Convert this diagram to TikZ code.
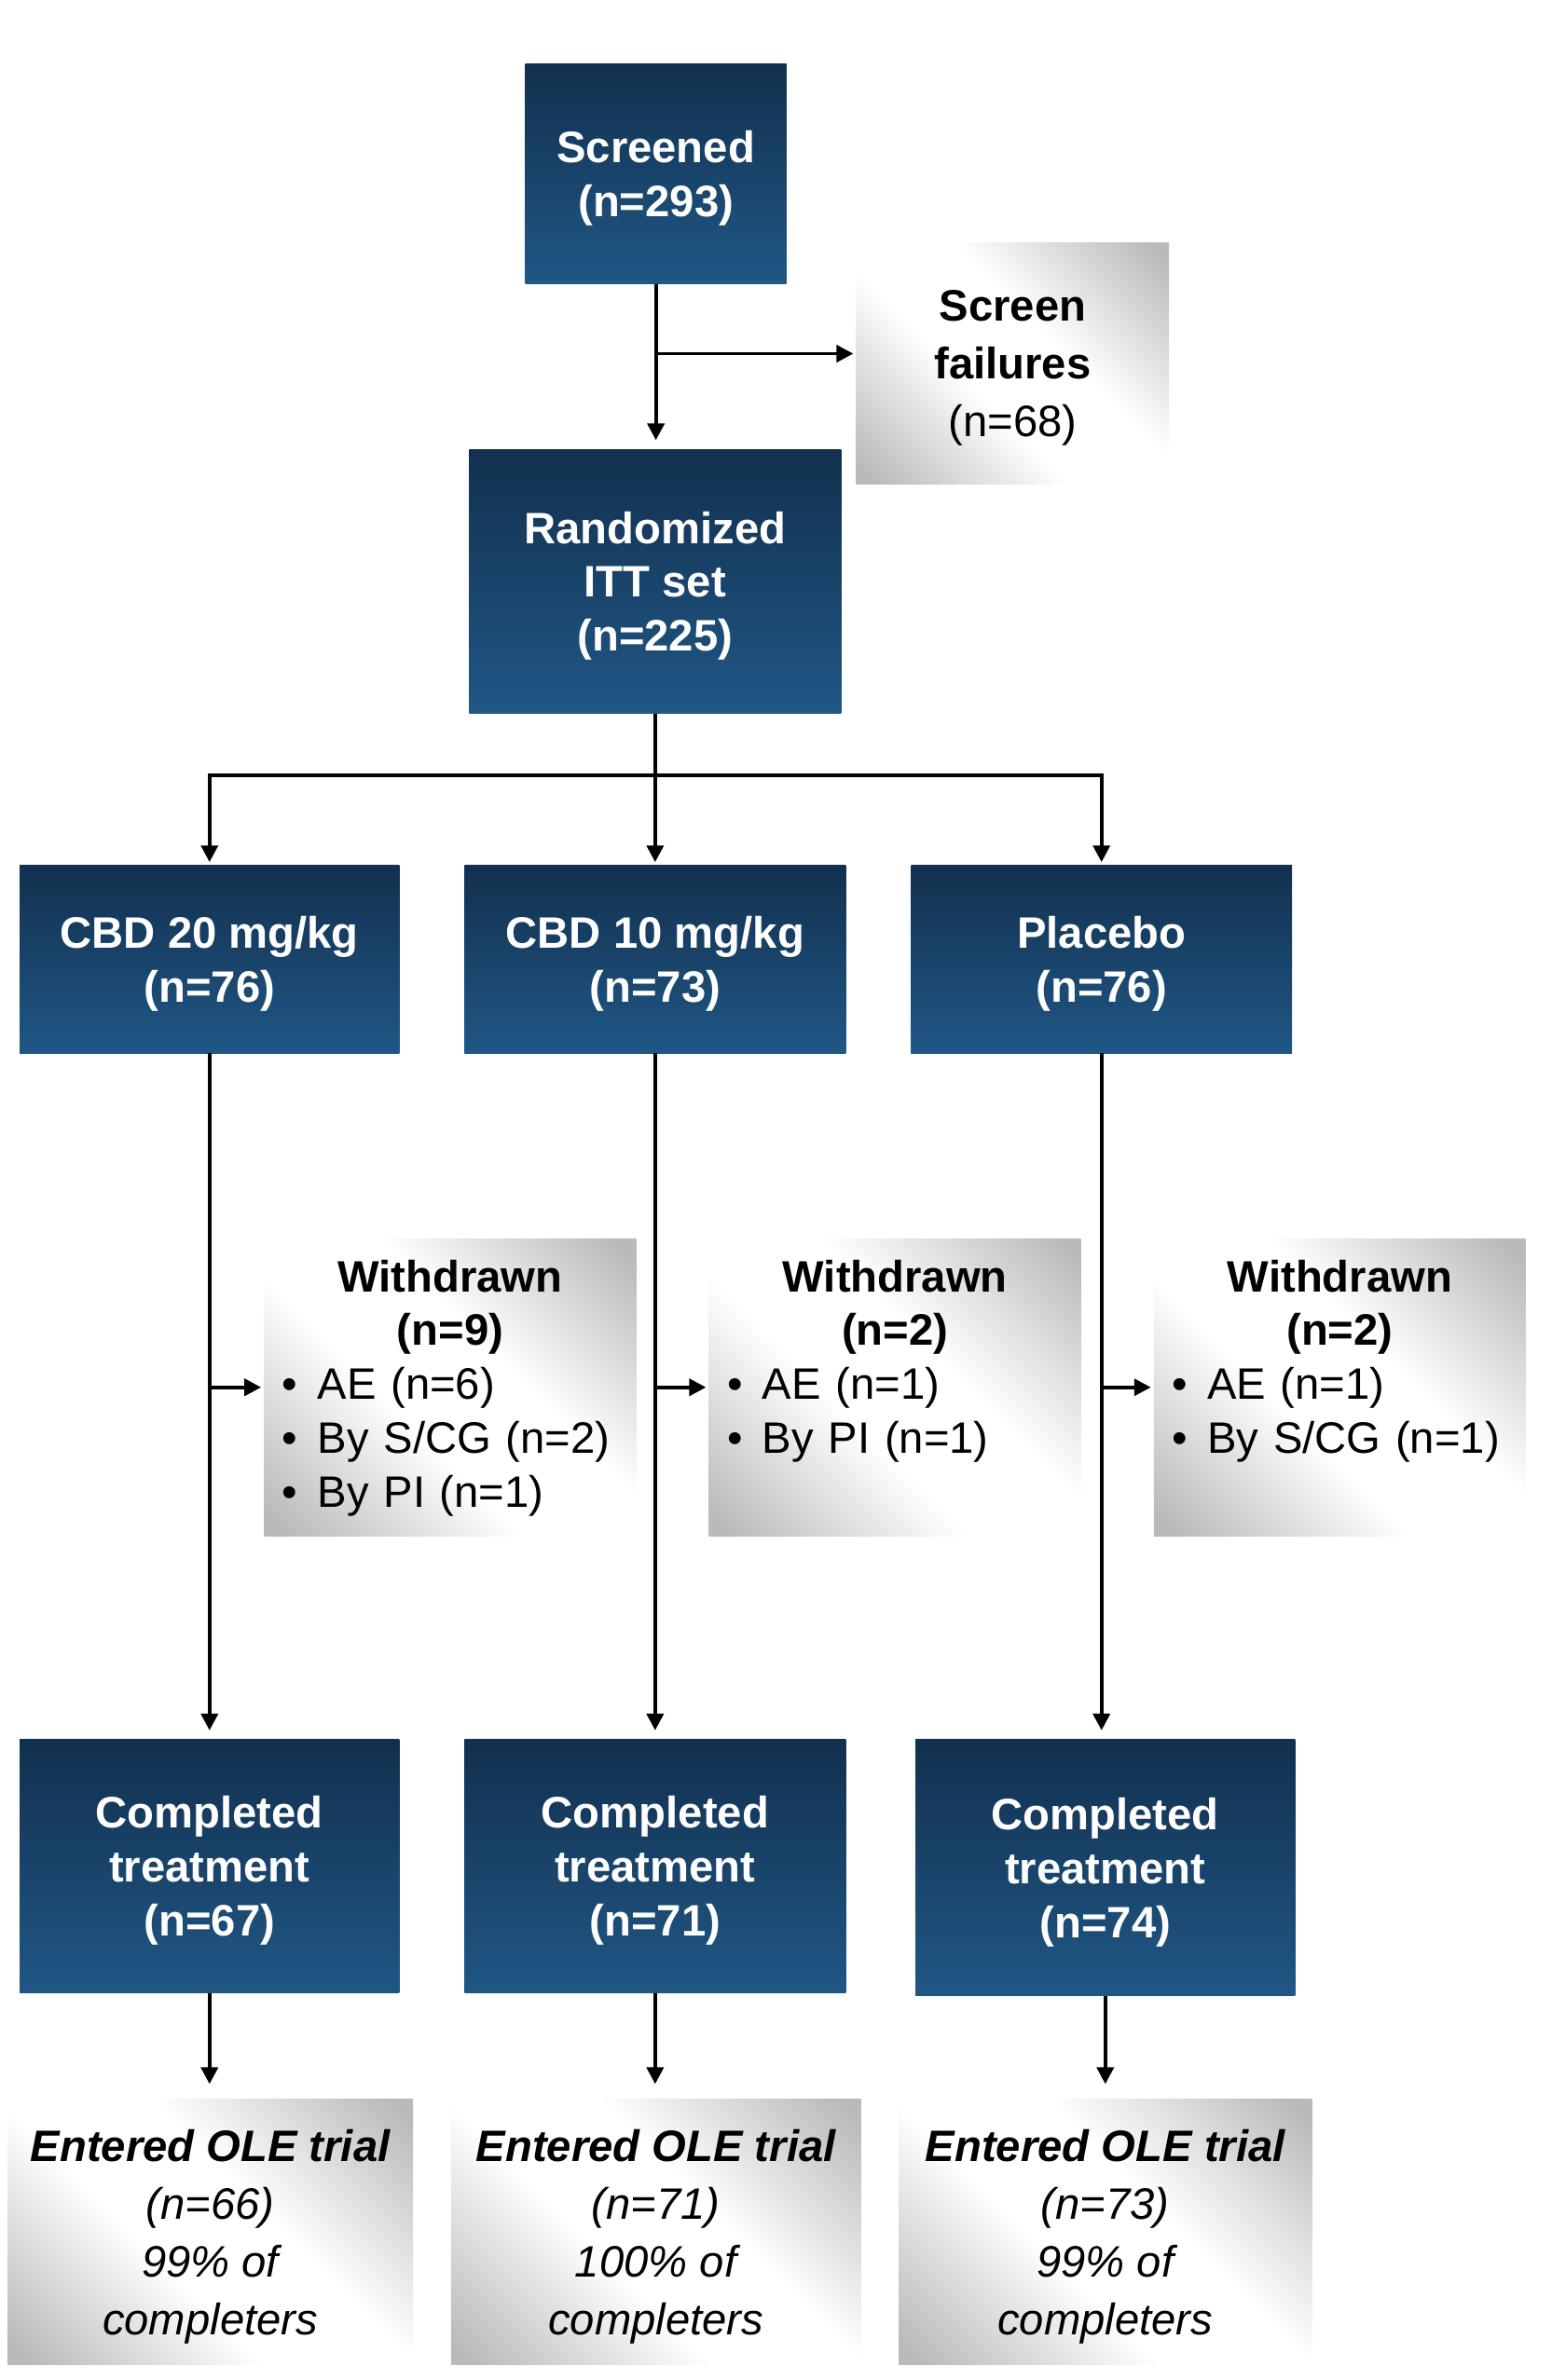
\documentclass[tikz,border=0pt]{standalone}
\usepackage{fontspec}
\setmainfont{Liberation Sans}
\usepackage{tikz}
\usetikzlibrary{positioning,arrows.meta}

\definecolor{navytop}{RGB}{18,48,79}
\definecolor{navybot}{RGB}{32,87,133}
\definecolor{greyedge}{RGB}{186,186,186}
\pgfdeclarehorizontalshading{greyband}{100bp}{color(0bp)=(greyedge); color(17bp)=(greyedge); color(42bp)=(white); color(58bp)=(white); color(83bp)=(greyedge); color(100bp)=(greyedge)}

\begin{document}
\begin{tikzpicture}[x=0.5pt,y=-0.5pt]
  \tikzset{BlueBoxStyle/.style = {
    shape         = rectangle,
    top color     = navytop,
    bottom color  = navybot,
    draw          = none,
    text          = white,
    font          = \fontsize{14.5}{17.75}\selectfont\bfseries,
    align         = center,
    text depth    = -1pt,
    inner sep     = 0pt,
    outer sep     = 0pt
    }
  }
  \tikzset{GreyBoxStyle/.style = {
    shape         = rectangle,
    shade,
    shading       = greyband,
    shading angle = 45,
    draw          = none,
    text          = black,
    font          = \fontsize{14.5}{19}\selectfont,
    align         = center,
    text depth    = 0pt,
    inner sep     = 0pt,
    outer sep     = 0pt
    }
  }
  \tikzset{WithdrawnStyle/.style = {
    GreyBoxStyle,
    font          = \fontsize{14.5}{17.75}\selectfont,
    align         = left,
    text width    = 110.5pt,
    text height   = 11pt,
    text depth    = 74pt,
    inner xsep    = 6pt,
    inner ysep    = 6.5pt
    }
  }
  \tikzset{ArrowStyle/.style = {
    draw          = black,
    line width    = 1.2pt,
    -{Triangle[length=5.5pt,width=5.5pt]}
    }
  }

  \useasboundingbox (0,0) rectangle (1022,1568);

	\node[BlueBoxStyle, minimum width=86pt, minimum height=72.5pt](Scr) at (432, 114.5) {Screened\\(n=293)};
	\node[GreyBoxStyle, minimum width=103pt, minimum height=79.5pt](SF) at (667, 239.5) {\textbf{Screen}\\\textbf{failures}\\(n=68)};
	\node[BlueBoxStyle, minimum width=122.5pt, minimum height=87pt](Rand) at (431.5, 383) {Randomized\\ITT set\\(n=225)};

	\node[BlueBoxStyle, minimum width=125pt, minimum height=62pt](CBD20) at (138, 632) {CBD 20 mg/kg\\(n=76)};
	\node[BlueBoxStyle, minimum width=125.5pt, minimum height=62pt](CBD10) at (431.5, 632) {CBD 10 mg/kg\\(n=73)};
	\node[BlueBoxStyle, minimum width=125.5pt, minimum height=62pt](Plac) at (725.5, 632) {Placebo\\(n=76)};

	\node[WithdrawnStyle](W1) at (296.5, 914) {{\centering\bfseries Withdrawn\\(n=9)\par}\textbullet\hspace{6.5pt}AE (n=6)\\\textbullet\hspace{6.5pt}By S/CG (n=2)\\\textbullet\hspace{6.5pt}By PI (n=1)};
	\node[WithdrawnStyle](W2) at (589.5, 914) {{\centering\bfseries Withdrawn\\(n=2)\par}\textbullet\hspace{6.5pt}AE (n=1)\\\textbullet\hspace{6.5pt}By PI (n=1)};
	\node[WithdrawnStyle](W3) at (882.5, 914) {{\centering\bfseries Withdrawn\\(n=2)\par}\textbullet\hspace{6.5pt}AE (n=1)\\\textbullet\hspace{6.5pt}By S/CG (n=1)};

	\node[BlueBoxStyle, minimum width=125pt, minimum height=83.5pt](Comp1) at (138, 1229.5) {Completed\\treatment\\(n=67)};
	\node[BlueBoxStyle, minimum width=125.5pt, minimum height=83.5pt](Comp2) at (431.5, 1229.5) {Completed\\treatment\\(n=71)};
	\node[BlueBoxStyle, minimum width=125pt, minimum height=84.5pt](Comp3) at (728, 1230.5) {Completed\\treatment\\(n=74)};

	\node[GreyBoxStyle, font=\fontsize{14.5}{19}\selectfont\itshape, minimum width=133.5pt, minimum height=87.5pt](OLE1) at (138.5, 1470.5) {\textbf{Entered OLE trial}\\(n=66)\\99\% of\\completers};
	\node[GreyBoxStyle, font=\fontsize{14.5}{19}\selectfont\itshape, minimum width=135pt, minimum height=87.5pt](OLE2) at (432, 1470.5) {\textbf{Entered OLE trial}\\(n=71)\\100\% of\\completers};
	\node[GreyBoxStyle, font=\fontsize{14.5}{19}\selectfont\itshape, minimum width=136pt, minimum height=87.5pt](OLE3) at (728, 1470.5) {\textbf{Entered OLE trial}\\(n=73)\\99\% of\\completers};

	\coordinate (SFsplit) at (432, 233);
	\coordinate (ArmSplit) at (431.5, 511);

	\draw[ArrowStyle, shorten >=3pt](Scr.south) -- (Scr.south |- Rand.north);
	\draw[ArrowStyle, shorten >=1pt](SFsplit) -- (SFsplit -| SF.west);
	\draw[line width=1.2pt](Rand.south) -- (ArmSplit);
	\draw[ArrowStyle, shorten >=1pt](ArmSplit) -| (CBD20.north);
	\draw[ArrowStyle, shorten >=1pt](ArmSplit) -- (CBD10.north);
	\draw[ArrowStyle, shorten >=1pt](ArmSplit) -| (Plac.north);

	\draw[ArrowStyle, shorten >=3pt](CBD20.south) -- (CBD20.south |- Comp1.north);
	\draw[ArrowStyle, shorten >=3pt](CBD10.south) -- (CBD10.south |- Comp2.north);
	\draw[ArrowStyle, shorten >=3pt](Plac.south) -- (Plac.south |- Comp3.north);
	\draw[ArrowStyle, shorten >=1pt](CBD20.south |- W1.west) -- (W1.west);
	\draw[ArrowStyle, shorten >=1pt](CBD10.south |- W2.west) -- (W2.west);
	\draw[ArrowStyle, shorten >=1pt](Plac.south |- W3.west) -- (W3.west);

	\draw[ArrowStyle, shorten >=5pt](Comp1.south) -- (Comp1.south |- OLE1.north);
	\draw[ArrowStyle, shorten >=5pt](Comp2.south) -- (Comp2.south |- OLE2.north);
	\draw[ArrowStyle, shorten >=5pt](Comp3.south) -- (Comp3.south |- OLE3.north);

  \end{tikzpicture}
\end{document}
